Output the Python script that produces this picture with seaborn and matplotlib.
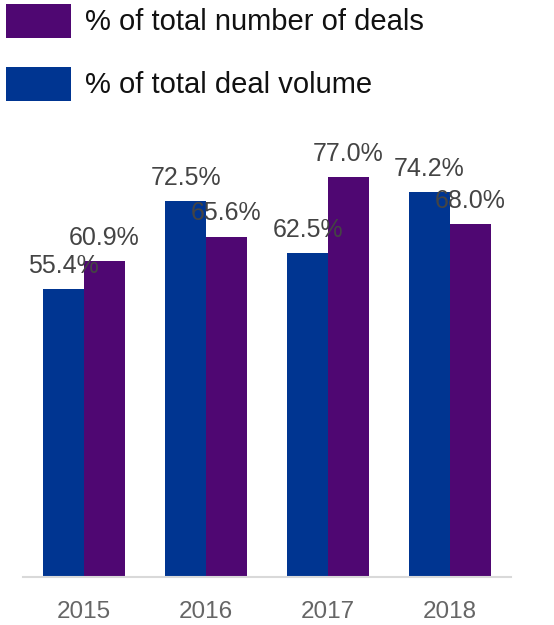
import matplotlib
matplotlib.use("Agg")
import matplotlib.pyplot as plt
import seaborn as sns
import pandas as pd
from matplotlib.patches import Rectangle

years = ["2015", "2016", "2017", "2018"]
deal_volume = [55.4, 72.5, 62.5, 74.2]
number_of_deals = [60.9, 65.6, 77.0, 68.0]
series_names = ["% of total deal volume", "% of total number of deals"]
colors = {"% of total deal volume": "#003591", "% of total number of deals": "#4f0772"}

df = pd.DataFrame({
    "year": years * 2,
    "value": deal_volume + number_of_deals,
    "series": [series_names[0]] * 4 + [series_names[1]] * 4,
})

sns.set_style("white")
plt.rcParams["font.family"] = ["Liberation Sans", "DejaVu Sans"]

W, H = 554, 625
fig = plt.figure(figsize=(W / 100, H / 100), dpi=100)
ax = fig.add_axes([23 / W, 48 / H, 488 / W, 519 / H])

sns.barplot(data=df, x="year", y="value", hue="series", hue_order=series_names,
            palette=colors, width=0.67, ax=ax, legend=False, saturation=1,
            linewidth=0, edgecolor="none")

ax.set_ylim(0, 100)
ax.set_xlim(-0.5, 3.5)
for c in ax.containers:
    ax.bar_label(c, fmt="%.1f%%", padding=8, fontsize=18, color="#444444")

for s in ["top", "right", "left"]:
    ax.spines[s].set_visible(False)
ax.spines["bottom"].set_color("#d9d9d9")
ax.spines["bottom"].set_linewidth(1.5)
ax.set_yticks([])
ax.set_xlabel("")
ax.set_ylabel("")
ax.tick_params(axis="x", length=0, pad=17, labelsize=17.5, labelcolor="#666666")

# legend
legend_items = [(series_names[1], 4), (series_names[0], 67)]
for name, top in legend_items:
    fig.add_artist(Rectangle((6 / W, 1 - (top + 34) / H), 65 / W, 34 / H,
                             transform=fig.transFigure, color=colors[name], lw=0))
    fig.text(85 / W, 1 - (top + 18) / H, name, fontsize=21, color="#111111",
             va="center", ha="left")

fig.savefig("out.png", dpi=100)
